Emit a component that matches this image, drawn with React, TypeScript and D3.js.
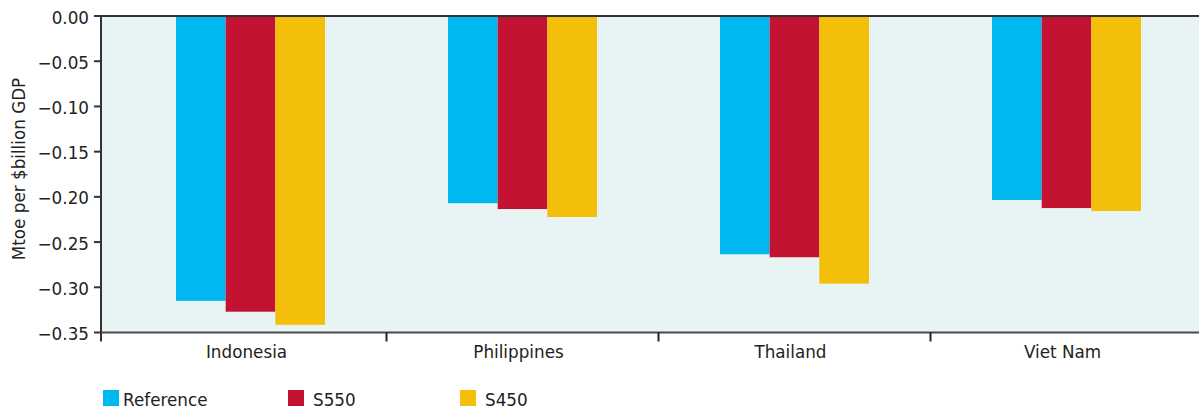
import React from "react";
import * as d3 from "d3";

const categories = ["Indonesia", "Philippines", "Thailand", "Viet Nam"];
const seriesNames = ["Reference", "S550", "S450"];
const referenceSeries = [-0.315, -0.207, -0.2635, -0.2035];
const s550Series = [-0.327, -0.2135, -0.2668, -0.2124];
const s450Series = [-0.3415, -0.2223, -0.296, -0.2157];
const yTicks = [0, -0.05, -0.1, -0.15, -0.2, -0.25, -0.3, -0.35];
const colors = ["#00B8F0", "#C41233", "#F3BF0A"];

const W = 1199;
const H = 411;
const FONT = "'DejaVu Sans', sans-serif";

export default function App() {
  const seriesValues = [referenceSeries, s550Series, s450Series];
  const plotLeft = 101;
  const plotTop = 16;
  const plotBottom = 332.5;

  const y = d3.scaleLinear().domain([-0.35, 0]).range([plotBottom, plotTop]);
  const x = d3.scaleBand<string>().domain(categories).range([114.5, 1202.5]).padding(0);
  const groupWidth = 149;
  const xs = d3.scaleBand<string>().domain(seriesNames).range([0, groupWidth]).padding(0);
  const groupOffset = (x.bandwidth() - groupWidth) / 2;
  const fmt = d3.format(".2f");

  const boundaries = categories.slice(1).map((c) => x(c)!);
  const legendX = [103, 288, 460];
  const legendTextGap = [20, 25, 25];
  const fs = 16.8;

  return (
    <svg
      width={W}
      height={H}
      style={{ position: "absolute", left: 0, top: 0, background: "#fff" }}
      fontFamily={FONT}
    >
      <rect x={plotLeft} y={plotTop} width={W - plotLeft} height={plotBottom - plotTop} fill="#E8F4F4" />
      {categories.map((c, ci) =>
        seriesNames.map((s, si) => {
          const v = seriesValues[si][ci];
          const bx = x(c)! + groupOffset + xs(s)!;
          return (
            <rect
              key={c + s}
              x={bx}
              y={y(0)}
              width={xs.bandwidth()}
              height={y(v) - y(0)}
              fill={colors[si]}
            />
          );
        })
      )}
      <line x1={plotLeft} x2={W} y1={y(0)} y2={y(0)} stroke="#333" strokeWidth={2} />
      <line x1={plotLeft} x2={W} y1={plotBottom} y2={plotBottom} stroke="#4a4a4a" strokeWidth={2} />
      <line x1={plotLeft} x2={plotLeft} y1={plotTop - 1} y2={plotBottom + 9} stroke="#333" strokeWidth={2} />
      {yTicks.map((t) => (
        <g key={t}>
          <line x1={plotLeft - 7} x2={plotLeft} y1={y(t)} y2={y(t)} stroke="#333" strokeWidth={2} />
          <text x={89} y={y(t) + 7.5} textAnchor="end" fontSize={fs} fill="#222">
            {fmt(t)}
          </text>
        </g>
      ))}
      {boundaries.map((b, i) => (
        <line key={i} x1={b} x2={b} y1={plotBottom} y2={plotBottom + 9} stroke="#222" strokeWidth={2} />
      ))}
      {categories.map((c) => (
        <text
          key={c}
          x={x(c)! + x.bandwidth() / 2 - 4}
          y={358}
          textAnchor="middle"
          fontSize={fs}
          fill="#222"
        >
          {c}
        </text>
      ))}
      <text transform={`translate(25, 169) rotate(-90)`} textAnchor="middle" fontSize={fs} fill="#222">
        Mtoe per $billion GDP
      </text>
      {seriesNames.map((s, i) => (
        <g key={s}>
          <rect x={legendX[i]} y={390} width={16} height={16} fill={colors[i]} />
          <text x={legendX[i] + legendTextGap[i]} y={406} fontSize={fs} fill="#222">
            {s}
          </text>
        </g>
      ))}
    </svg>
  );
}
